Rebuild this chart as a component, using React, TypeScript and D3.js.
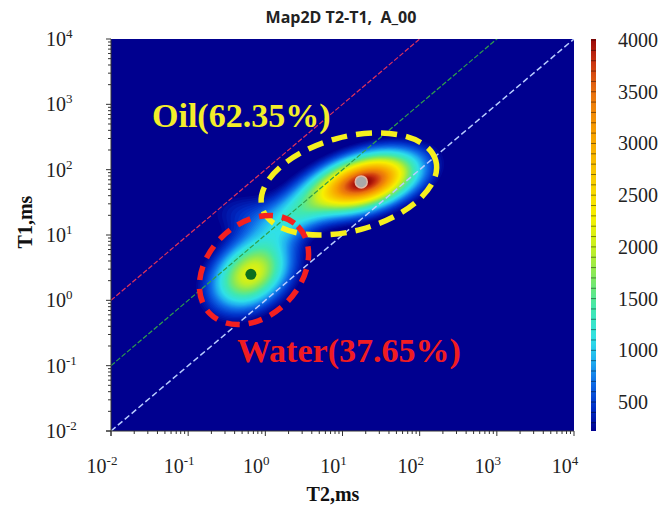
import React, { useMemo } from 'react';
import * as d3 from 'd3';

// ---------- data ----------
const axisExponents = [-2, -1, 0, 1, 2, 3, 4];
const colorbarTicks = [500, 1000, 1500, 2000, 2500, 3000, 3500, 4000];
const colorbarDomain = [220, 4010];

// heat-map components (T2 ms, T1 ms, amplitude, spreads in decades, angle deg, shape power)
const compT2 = [19, 0.65, 2.3, 0.5];
const compT1 = [64, 2.53, 20, 22];
const compAmp = [4050, 2150, 900, 350];
const compMajor = [0.46, 0.4, 0.4, 0.35];
const compMinor = [0.25, 0.29, 0.22, 0.25];
const compAngle = [22, 50, 40, 0];
const compPower = [1, 1, 1, 1];

// guide lines T1 = ratio * T2
const guideRatios = [100, 10, 1];

// fluid annotations
const fluidNames = ['Oil(62.35%)', 'Water(37.65%)'];
const fluidCenterT2 = [12.1, 0.713];
const fluidCenterT1 = [60.4, 2.91];
const peakT2 = [17.5, 0.65];
const peakT1 = [65, 2.5];

// colour stops
const stopValues = [220, 450, 700, 900, 1100, 1400, 1700, 2000, 2300, 2700, 3100, 3500, 3800, 4010];
const stopColors = ['#00008f', '#0030c8', '#1070e8', '#20b0f0', '#30e0e8', '#40e8b0', '#80e860', '#c8f020', '#f8f000', '#f8c800', '#f8a000', '#e87010', '#c83010', '#980808'];

const W = 664, H = 506;
const X0 = 111, X1 = 574, Y0 = 39, Y1 = 431;
const SERIF = '"Times New Roman", "Liberation Serif", serif';

export default function App() {
  const x = d3.scaleLog().domain([1e-2, 1e4]).range([X0, X1]);
  const y = d3.scaleLog().domain([1e-2, 1e4]).range([Y1, Y0]);
  const color = d3.scaleLinear<string>().domain(stopValues).range(stopColors).interpolate(d3.interpolateRgb).clamp(true);
  const cb = d3.scaleLinear().domain(colorbarDomain).range([Y1, Y0]);

  const { paths, sx, sy } = useMemo(() => {
    const cell = 2;
    const nx = Math.ceil((X1 - X0) / cell);
    const ny = Math.ceil((Y1 - Y0) / cell);
    const sx = (X1 - X0) / nx, sy = (Y1 - Y0) / ny;
    const vals = new Float64Array(nx * ny);
    for (let j = 0; j < ny; j++) {
      const v = Math.log10(y.invert(Y0 + (j + 0.5) * sy));
      for (let i = 0; i < nx; i++) {
        const u = Math.log10(x.invert(X0 + (i + 0.5) * sx));
        let s = 0;
        for (let k = 0; k < compAmp.length; k++) {
          const du = u - Math.log10(compT2[k]);
          const dv = v - Math.log10(compT1[k]);
          const a = (compAngle[k] * Math.PI) / 180;
          const al = du * Math.cos(a) + dv * Math.sin(a);
          const pe = -du * Math.sin(a) + dv * Math.cos(a);
          const r2 = (al / compMajor[k]) ** 2 + (pe / compMinor[k]) ** 2;
          s += compAmp[k] * Math.exp(-0.5 * Math.pow(r2, compPower[k]));
        }
        vals[j * nx + i] = s;
      }
    }
    const thresholds = d3.range(240, 4020, 40);
    const cs = d3.contours().size([nx, ny]).thresholds(thresholds)(Array.from(vals));
    const gp = d3.geoPath();
    const paths = cs.map((c) => ({ d: gp(c) || '', v: c.value + 20 }));
    return { paths, sx, sy };
  }, []);

  const guideStyles = [
    { stroke: '#e0325a', dash: '5 2', w: 1.2 },
    { stroke: '#2fa04a', dash: '5 2', w: 1.2 },
    { stroke: '#b8ccff', dash: '6 3', w: 1.5 },
  ];

  const minorTicks: number[] = [];
  axisExponents.slice(0, -1).forEach((e) => {
    for (let m = 2; m <= 9; m++) minorTicks.push(m * Math.pow(10, e));
  });

  const gradStops = d3.range(0, 1.0001, 0.02).map((t) => ({
    off: t,
    c: color(colorbarDomain[0] + t * (colorbarDomain[1] - colorbarDomain[0])),
  }));

  const label = (e: number) => (
    <>
      <tspan>10</tspan>
      <tspan fontSize={13} dy={-8}>{String(e)}</tspan>
    </>
  );

  return (
    <svg width={W} height={H} style={{ position: 'absolute', left: 0, top: 0, background: '#fff' }}>
      <defs>
        <clipPath id="plotclip">
          <rect x={X0} y={Y0} width={X1 - X0} height={Y1 - Y0} />
        </clipPath>
        <linearGradient id="cbgrad" x1="0" y1="1" x2="0" y2="0">
          {gradStops.map((s, i) => (
            <stop key={i} offset={s.off} stopColor={s.c} />
          ))}
        </linearGradient>
      </defs>

      <text x={341} y={23} textAnchor="middle" fontFamily='"Open Sans", sans-serif' fontWeight={700} fontSize={16} fill="#222" style={{ whiteSpace: 'pre' }}>
        {'Map2D T2-T1,  A_00'}
      </text>

      <g clipPath="url(#plotclip)">
        <rect x={X0} y={Y0} width={X1 - X0} height={Y1 - Y0} fill={color(0)} />
        <g transform={`translate(${X0},${Y0}) scale(${sx},${sy})`}>
          {paths.map((p, i) => (
            <path key={i} d={p.d} fill={color(p.v)} stroke="none" />
          ))}
        </g>
        {guideRatios.map((r, i) => (
          <line
            key={i}
            x1={x(1e-2)}
            y1={y(r * 1e-2)}
            x2={x(1e4)}
            y2={y(r * 1e4)}
            stroke={guideStyles[i].stroke}
            strokeWidth={guideStyles[i].w}
            strokeDasharray={guideStyles[i].dash}
          />
        ))}
        <circle cx={x(peakT2[1])} cy={y(peakT1[1])} r={5.5} fill="#0b6e1f" />
        <circle cx={x(peakT2[0])} cy={y(peakT1[0])} r={6} fill="#a9a9a9" stroke="#e3b7a3" strokeWidth={1.5} />
        <ellipse
          cx={x(fluidCenterT2[0])}
          cy={y(fluidCenterT1[0])}
          rx={90}
          ry={47}
          transform={`rotate(-15 ${x(fluidCenterT2[0])} ${y(fluidCenterT1[0])})`}
          fill="none"
          stroke="#f6f01e"
          strokeWidth={5.5}
          strokeDasharray="16 9"
        />
        <ellipse
          cx={x(fluidCenterT2[1])}
          cy={y(fluidCenterT1[1])}
          rx={62}
          ry={46}
          transform={`rotate(-45 ${x(fluidCenterT2[1])} ${y(fluidCenterT1[1])})`}
          fill="none"
          stroke="#f42020"
          strokeWidth={5.5}
          strokeDasharray="14 9"
        />
        <text x={152} y={127} fontFamily={SERIF} fontWeight={700} fontSize={34} fill="#f3ee2a">
          {fluidNames[0]}
        </text>
        <text x={237} y={362} fontFamily={SERIF} fontWeight={700} fontSize={34} fill="#f01c22">
          {fluidNames[1]}
        </text>
      </g>

      {/* axes */}
      <g stroke="#333" strokeWidth={1}>
        <line x1={X0} y1={Y0} x2={X0} y2={Y1 + 5} />
        <line x1={X0 - 5} y1={Y1} x2={X1} y2={Y1} />
        {axisExponents.map((e) => (
          <line key={'xt' + e} x1={x(Math.pow(10, e))} x2={x(Math.pow(10, e))} y1={Y1} y2={Y1 + 5} />
        ))}
        {minorTicks.map((v, i) => (
          <line key={'xm' + i} x1={x(v)} x2={x(v)} y1={Y1} y2={Y1 + 3} />
        ))}
        {axisExponents.map((e) => (
          <line key={'yt' + e} y1={y(Math.pow(10, e))} y2={y(Math.pow(10, e))} x1={X0 - 5} x2={X0} />
        ))}
        {minorTicks.map((v, i) => (
          <line key={'ym' + i} y1={y(v)} y2={y(v)} x1={X0 - 3} x2={X0} />
        ))}
      </g>

      {axisExponents.map((e) => (
        <text key={'xl' + e} x={x(Math.pow(10, e)) - 9} y={473} textAnchor="middle" fontFamily={SERIF} fontSize={20} fill="#222">
          {label(e)}
        </text>
      ))}
      {axisExponents.map((e) => (
        <text key={'yl' + e} x={46} y={y(Math.pow(10, e)) + 7} textAnchor="start" fontFamily={SERIF} fontSize={20} fill="#222">
          {label(e)}
        </text>
      ))}

      <text x={333} y={501} textAnchor="middle" fontFamily={SERIF} fontWeight={700} fontSize={20} fill="#111">
        T2,ms
      </text>
      <text transform={`translate(32,222) rotate(-90)`} textAnchor="middle" fontFamily={SERIF} fontWeight={700} fontSize={20} fill="#111">
        T1,ms
      </text>

      {/* colorbar */}
      <rect x={591} y={Y0} width={5} height={Y1 - Y0} fill="url(#cbgrad)" />
      <g stroke="#000" strokeOpacity={0.45} strokeWidth={1}>
        {d3.range(300, 4001, 100).map((v) => (
          <line key={v} x1={591} x2={596} y1={cb(v)} y2={cb(v)} />
        ))}
      </g>
      {colorbarTicks.map((v) => (
        <text key={v} x={618} y={cb(v) + 7} fontFamily={SERIF} fontSize={20} fill="#222">
          {v}
        </text>
      ))}
    </svg>
  );
}
